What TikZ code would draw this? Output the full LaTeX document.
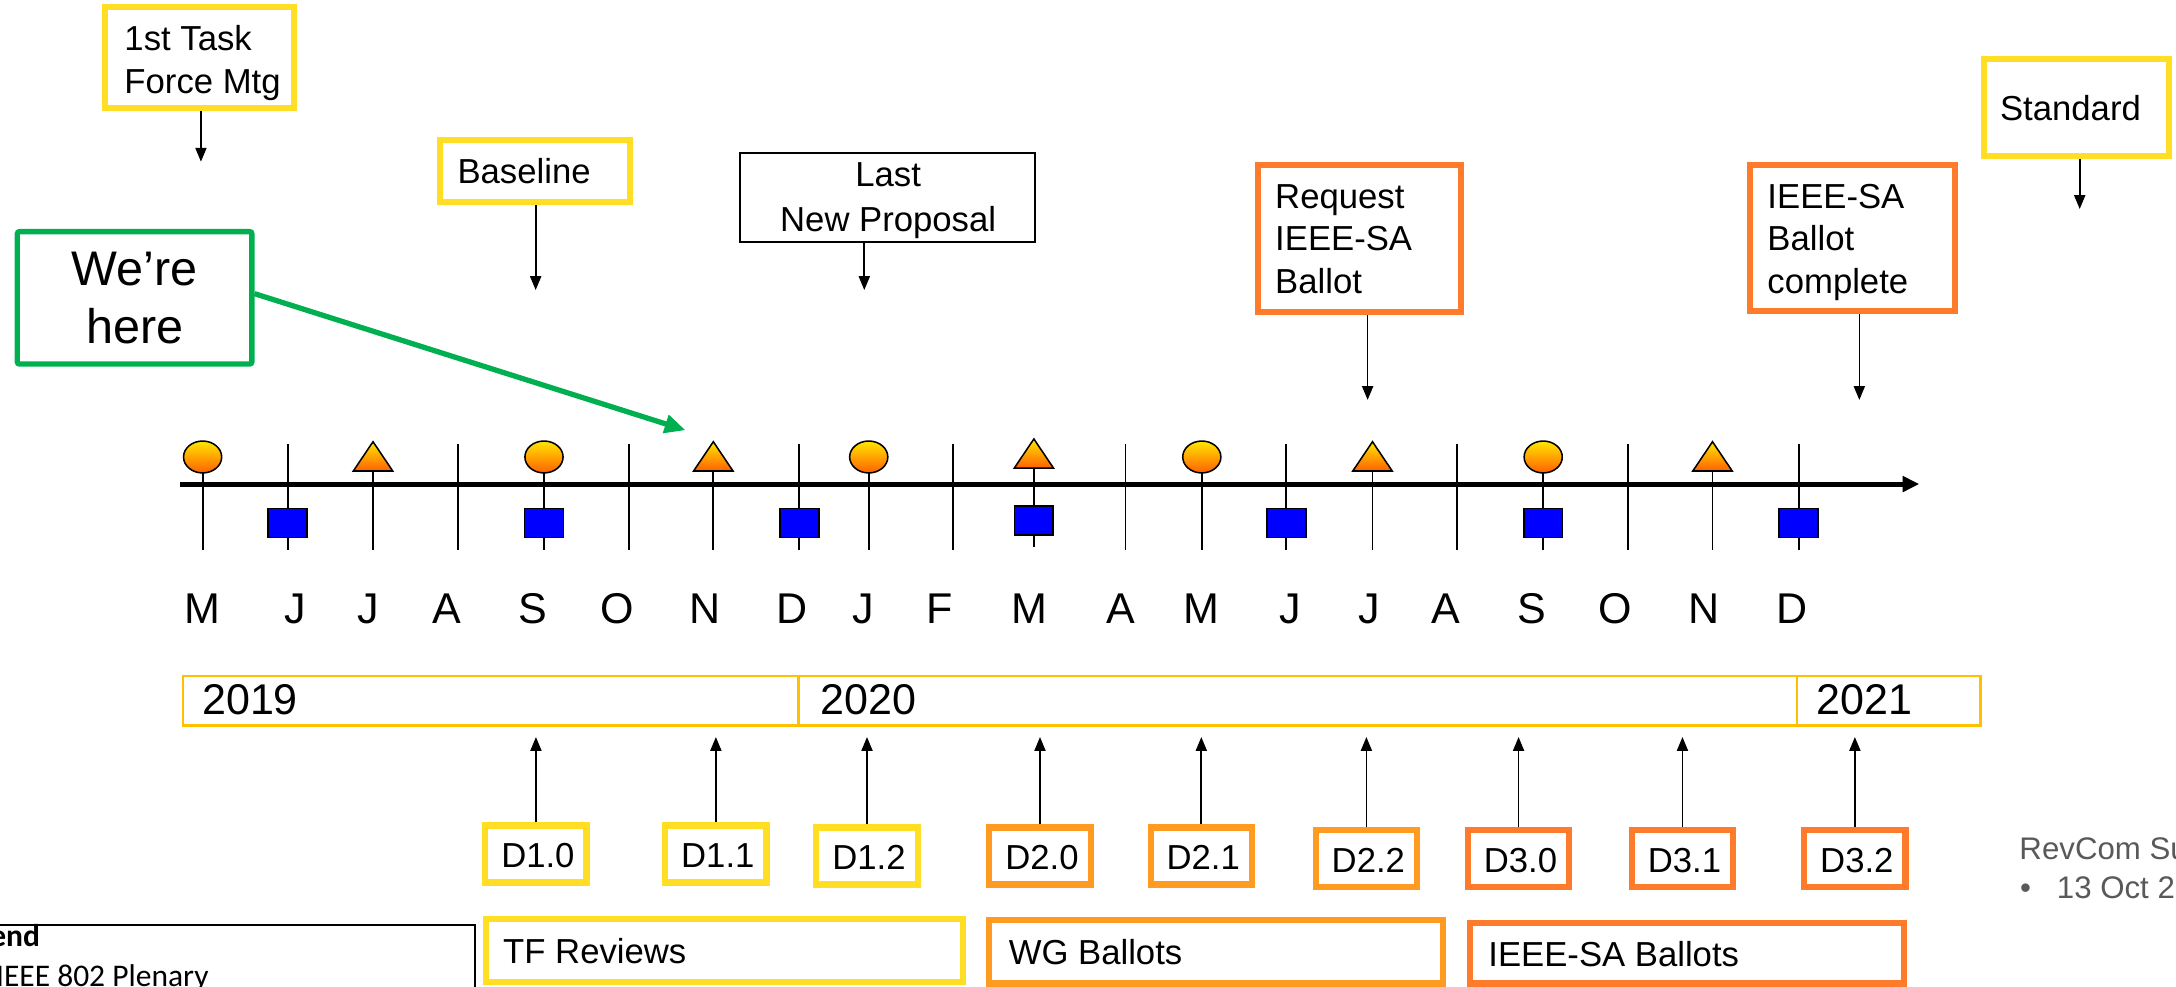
\documentclass[tikz,border=0pt]{standalone}
\usepackage{fontspec}
\setmainfont{Liberation Sans}
\newfontfamily\legendfont{Carlito}
\usetikzlibrary{arrows.meta,shapes.geometric,calc}
\definecolor{cYel}{RGB}{255,222,35}
\definecolor{cGold}{RGB}{255,192,0}
\definecolor{cOrL}{RGB}{255,155,33}
\definecolor{cOrD}{RGB}{255,123,44}
\definecolor{cGreen}{RGB}{0,176,80}
\definecolor{cGray}{RGB}{89,89,89}
\definecolor{cBlue}{RGB}{0,0,255}
\definecolor{gTop}{RGB}{255,230,0}
\definecolor{gBot}{RGB}{255,96,0}
\tikzset{
  boxbase/.style={rectangle, inner sep=0pt, line width=4.5pt},
  ybox/.style={boxbase, draw=cYel},
  olbox/.style={boxbase, draw=cOrL},
  odbox/.style={boxbase, draw=cOrD},
  dbox/.style={minimum width=73pt, minimum height=41pt},
  yrbox/.style={rectangle, inner sep=0pt, draw=cGold, line width=1.7pt, minimum height=35.5pt},
  lbl/.style={inner sep=0pt, anchor=base west, font=\fontsize{25}{30}\selectfont},
  clbl/.style={inner sep=0pt, anchor=base, font=\fontsize{25}{30}\selectfont},
  mon/.style={inner sep=0pt, anchor=base, font=\fontsize{31}{36}\selectfont},
  yrl/.style={inner sep=0pt, anchor=base west, font=\fontsize{31}{36}\selectfont},
  darr/.style={line width=1.2pt, -{Triangle[length=10pt,width=8pt]}},
  tickline/.style={line width=1.4pt},
  tri/.style={draw=black, line width=1.1pt, top color=gTop, bottom color=gBot, line join=miter},
  elmark/.style={ellipse, draw=black, line width=1.1pt, inner sep=0pt, minimum width=27.5pt, minimum height=23pt, top color=gTop, bottom color=gBot},
  sqmark/.style={rectangle, draw=black, line width=1.2pt, fill=cBlue, inner sep=0pt, minimum width=28pt, minimum height=21pt},
  revtxt/.style={inner sep=0pt, anchor=base west, text=cGray, font=\fontsize{22.5}{27}\selectfont},
}
\begin{document}
\begin{tikzpicture}[x=1pt,y=-1pt]
\useasboundingbox (0,0) rectangle (1568,711);
\clip (0,0) rectangle (1568,711);

% ---------- top milestone boxes ----------
\node[ybox, minimum width=136.1pt, minimum height=72.5pt] (task) at (143.6,41.5) {};
\node[lbl] (taskT1) at (89.5,36.5) {1st Task};
\node[lbl] (taskT2) at (89.5,67.2) {Force Mtg};
\coordinate (taskA) at (144.8,116.5);
\draw[darr] (task.south -| taskA) -- (taskA);

\node[ybox, minimum width=137pt, minimum height=44.7pt] (base) at (385.35,123.1) {};
\node[lbl] (baseT) at (329.5,132) {Baseline};
\coordinate (baseA) at (386,209);
\draw[darr] (base.south -| baseA) -- (baseA);

\node[rectangle, draw=black, line width=1.5pt, inner sep=0pt, minimum width=212.5pt, minimum height=64.1pt] (last) at (639.7,142.1) {};
\node[clbl] (lastT1) at (640,134.5) {Last};
\node[clbl] (lastT2) at (640,166.9) {New Proposal};
\coordinate (lastA) at (622.8,209);
\draw[darr] (last.south -| lastA) -- (lastA);

\node[odbox, minimum width=146.7pt, minimum height=106pt] (req) at (979.6,171.75) {};
\node[lbl] (reqT1) at (918.7,150.1) {Request};
\node[lbl] (reqT2) at (918.7,180.6) {IEEE-SA};
\node[lbl] (reqT3) at (918.7,211.4) {Ballot};
\coordinate (reqA) at (985.5,288.2);
\draw[darr] (req.south -| reqA) -- (reqA);

\node[odbox, minimum width=147.8pt, minimum height=105.5pt] (comp) at (1334.65,171.5) {};
\node[lbl] (compT1) at (1273.4,150.1) {IEEE-SA};
\node[lbl] (compT2) at (1273.4,180.6) {Ballot};
\node[lbl] (compT3) at (1273.4,211.4) {complete};
\coordinate (compA) at (1339.8,288.2);
\draw[darr] (comp.south -| compA) -- (compA);

\node[ybox, minimum width=133.3pt, minimum height=70pt] (std) at (1496.1,77.35) {};
\node[lbl] (stdT) at (1441,86.5) {Standard};
\coordinate (stdA) at (1498.6,150.6);
\draw[darr] (std.south -| stdA) -- (stdA);

% ---------- We're here ----------
\node[rectangle, draw=cGreen, line width=3.8pt, rounded corners=1.5pt, inner sep=0pt,
      minimum width=169pt, minimum height=95.4pt, align=center,
      font=\fontsize{35}{42}\selectfont] (here) at (97,214.6) {We’re\\here};
\coordinate (hereA) at (494,310);
\draw[draw=cGreen, line width=3.8pt, -{Triangle[length=15pt,width=13pt]}] ($(here.east)+(0,-3)$) -- (hereA);

% ---------- timeline ----------
\foreach \x/\o [count=\i] in {146/0,207.3/0,268.8/0,330/0,392/0,453/0,514/0,576/0,626/0,687/0,745/-2,811/0,866/0,927/0,989/0,1050/0,1112/0,1173/0,1234/0,1296/0}{
  \coordinate (tk\i a) at (\x,320.2+\o);
  \coordinate (tk\i b) at (\x,396.3+\o);
  \draw[tickline] (tk\i a) -- (tk\i b);
}
\coordinate (tl0) at (130,348.8);
\coordinate (tl1) at (1383,348.8);
\draw[line width=3.6pt, -{Triangle[length=12pt,width=11pt]}] (tl0) -- (tl1);

\foreach \x [count=\i] in {146,392,626,866,1112}
  \node[elmark] (el\i) at (\x,329.3) {};
\foreach \x/\o in {268.8/0,514/0,745/-2,989/0,1234/0}
  \draw[tri] (\x,318.3+\o) -- (\x+14.2,339.4+\o) -- (\x-14.2,339.4+\o) -- cycle;
\foreach \x/\o [count=\i] in {207.3/0,392/0,576/0,745/-2,927/0,1112/0,1296/0}
  \node[sqmark] (sq\i) at (\x,376.9+\o) {};

% month letters
\foreach \x/\m [count=\i] in {146/M,213/J,265/J,322/A,384/S,445/O,508/N,571/D,622/J,677/F,742/M,808/A,866/M,930/J,987/J,1042/A,1104/S,1164/O,1228/N,1291/D}
  \node[mon] (mon\i) at (\x,449.2) {\m};

% ---------- year bar ----------
\node[yrbox, minimum width=443.85pt] (y19) at (353.6,505) {};
\node[yrbox, minimum width=719.5pt] (y20) at (935.25,505) {};
\node[yrbox, minimum width=132.15pt] (y21) at (1361.1,505) {};
\node[yrl] (y19T) at (145.5,515.2) {2019};
\node[yrl] (y20T) at (591,515.2) {2020};
\node[yrl] (y21T) at (1309,515.2) {2021};

% ---------- drafts ----------
\foreach \n/\cx/\cy/\sty/\t in {d10/386.2/615.35/ybox/D1.0, d11/515.85/615.35/ybox/D1.1, d12/624.75/616.8/ybox/D1.2,
  d20/749.4/616.8/olbox/D2.0, d21/865.65/616.8/olbox/D2.1, d22/984.6/618.65/olbox/D2.2,
  d30/1094.25/618.65/odbox/D3.0, d31/1212.35/618.65/odbox/D3.1, d32/1336.6/618.65/odbox/D3.2}{
  \node[\sty, dbox] (\n) at (\cx,\cy) {};
  \node[lbl] (\n-t) at (\cx-25.2,\cy+9.75) {\t};
  \draw[darr, shorten >=7.5pt] (\n.north) -- (\n.north |- y19.south);
}

% ---------- phases ----------
\node[ybox, minimum width=343.7pt, minimum height=45.5pt] (tf) at (521.9,684.8) {};
\node[lbl] (tfT) at (362.4,694.1) {TF Reviews};
\node[olbox, minimum width=327.3pt, minimum height=45.7pt] (wg) at (876.1,685.9) {};
\node[lbl] (wgT) at (726.7,695.3) {WG Ballots};
\node[odbox, minimum width=313pt, minimum height=43.5pt] (sa) at (1215.75,687) {};
\node[lbl] (saT) at (1072.3,696.6) {IEEE-SA Ballots};

% ---------- legend (cut by the slide edge) ----------
\node[rectangle, draw=black, line width=1.5pt, inner sep=0pt, minimum width=402.25pt, minimum height=93.3pt] (legend) at (141.1,713.4) {};
\node[inner sep=0pt, anchor=base west, font={\legendfont\fontsize{22.7}{27}\selectfont\bfseries}] (legT) at (-38.7,682.1) {Legend};
\node[inner sep=0pt, anchor=base west, font={\legendfont\fontsize{22.7}{27}\selectfont}] (legP) at (-3,711) {IEEE 802 Plenary};

% ---------- RevCom (cut by the slide edge) ----------
\node[revtxt] (rev) at (1455,619.7) {RevCom Su};
\node[revtxt] (revB) at (1455.5,647.8) {\textbullet};
\node[revtxt] (revD) at (1482,647.8) {13 Oct 2};
\end{tikzpicture}
\end{document}
